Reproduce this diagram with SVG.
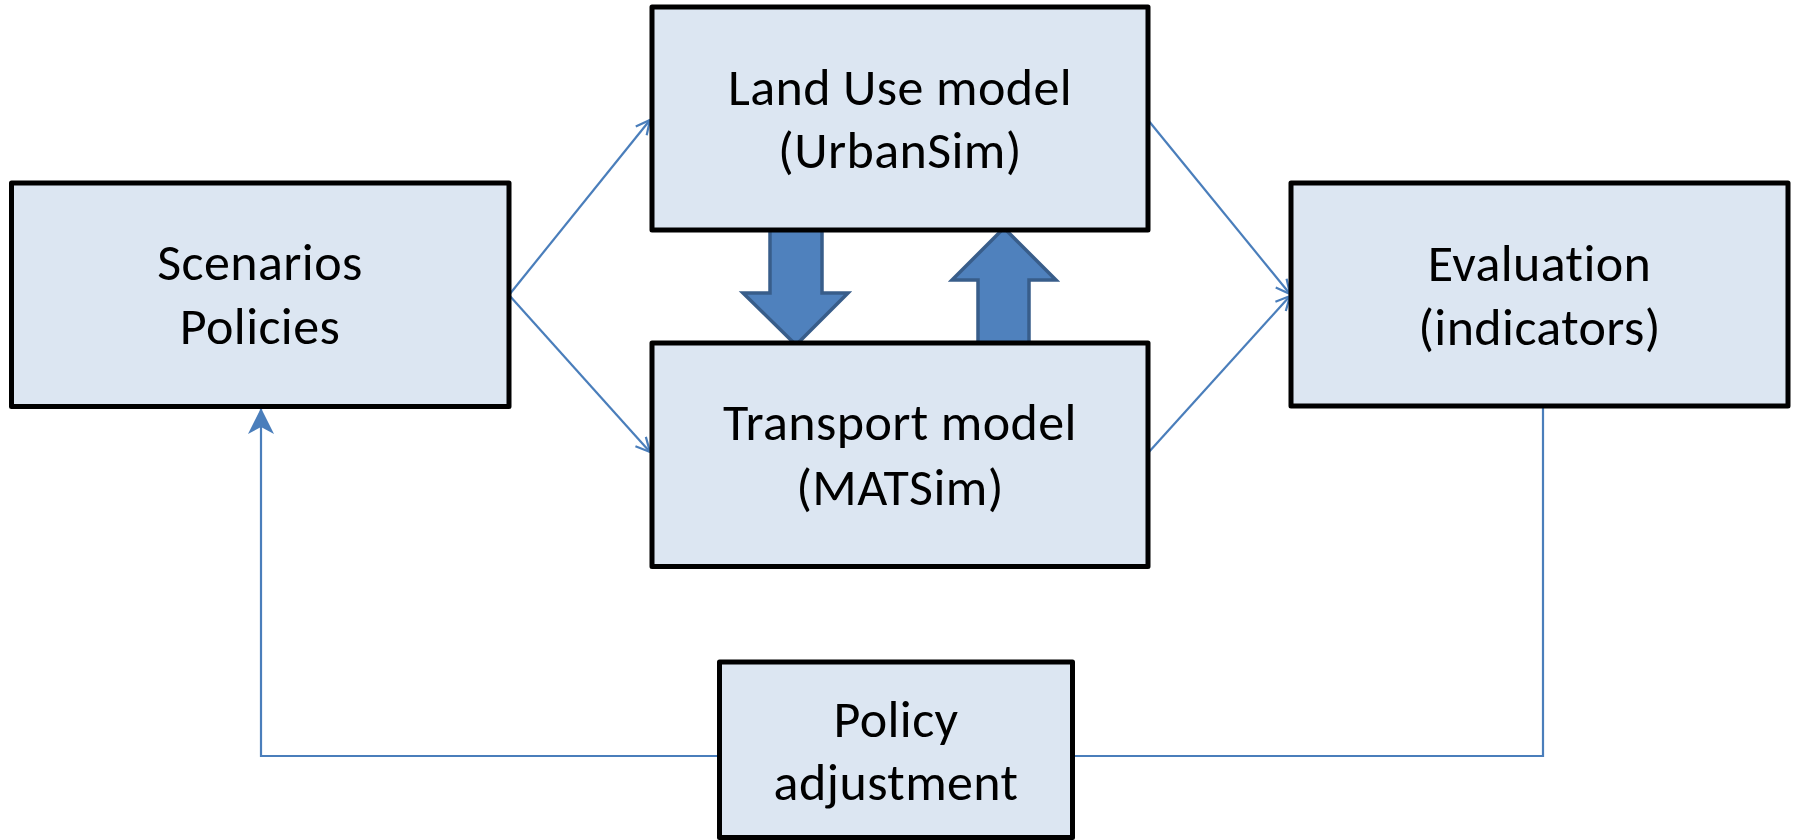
<svg xmlns="http://www.w3.org/2000/svg" width="1795" height="840" viewBox="0 0 1795 840">
<style>
.box{fill:#DCE6F2;stroke:#000;stroke-width:5;stroke-linejoin:round}
.lbl{font-family:Calibri,Carlito,Lato,"Liberation Sans",sans-serif;font-size:52px;letter-spacing:0.4px;font-variant-ligatures:none;fill:#000;text-anchor:middle}
.con{fill:none;stroke:#4A7EBB;stroke-width:2.2}
.blk{fill:#4F81BD;stroke:#385D8A;stroke-width:3.5;stroke-linejoin:miter}
</style>
<defs>
<marker id="open" viewBox="0 0 16 16" refX="15" refY="8" markerWidth="16" markerHeight="16" markerUnits="userSpaceOnUse" orient="auto">
<path d="M1,1 L15,8 L1,15" fill="none" stroke="#4A7EBB" stroke-width="2.2"/>
</marker>
<marker id="stealth" viewBox="0 0 26 26" refX="25" refY="13" markerWidth="26" markerHeight="26" markerUnits="userSpaceOnUse" orient="auto">
<path d="M0,0 L26,13 L0,26 L7,13 Z" fill="#4A7EBB"/>
</marker>
</defs>
<g id="connectors">
<path class="con" d="M509,295 L650,120" marker-end="url(#open)"/>
<path class="con" d="M509,295 L650,452" marker-end="url(#open)"/>
<path class="con" d="M1148,120 L1290,294" marker-end="url(#open)"/>
<path class="con" d="M1148,453 L1290,296" marker-end="url(#open)"/>
<path class="con" d="M719,756 H261 V409" marker-end="url(#stealth)"/>
<path class="con" d="M1543,407 V756 H1073"/>
<path class="blk" d="M770,229 H822 V293 H848 L796,345 L743,293 H770 Z"/>
<path class="blk" d="M978,344 V280 H952 L1004,228 L1056,280 H1029 V344 Z"/>
</g>
<g id="scenarios">
<rect class="box" x="11.5" y="183" width="497.5" height="223.5"/>
<text class="lbl" x="260" y="280">Scenarios</text>
<text class="lbl" x="260" y="344">Policies</text>
</g>
<g id="landuse">
<rect class="box" x="652" y="7" width="496" height="223"/>
<text class="lbl" x="900" y="105">Land Use model</text>
<text class="lbl" x="900" y="168">(UrbanSim)</text>
</g>
<g id="transport">
<rect class="box" x="652" y="343" width="496" height="223.5"/>
<text class="lbl" x="900" y="440">Transport model</text>
<text class="lbl" x="900" y="505">(MATSim)</text>
</g>
<g id="evaluation">
<rect class="box" x="1291" y="183" width="497" height="223"/>
<text class="lbl" x="1539.5" y="281">Evaluation</text>
<text class="lbl" x="1539.5" y="345">(indicators)</text>
</g>
<g id="policy">
<rect class="box" x="719.5" y="662" width="353" height="175.5"/>
<text class="lbl" x="896" y="737">Policy</text>
<text class="lbl" x="896" y="800">adjustment</text>
</g>
</svg>
